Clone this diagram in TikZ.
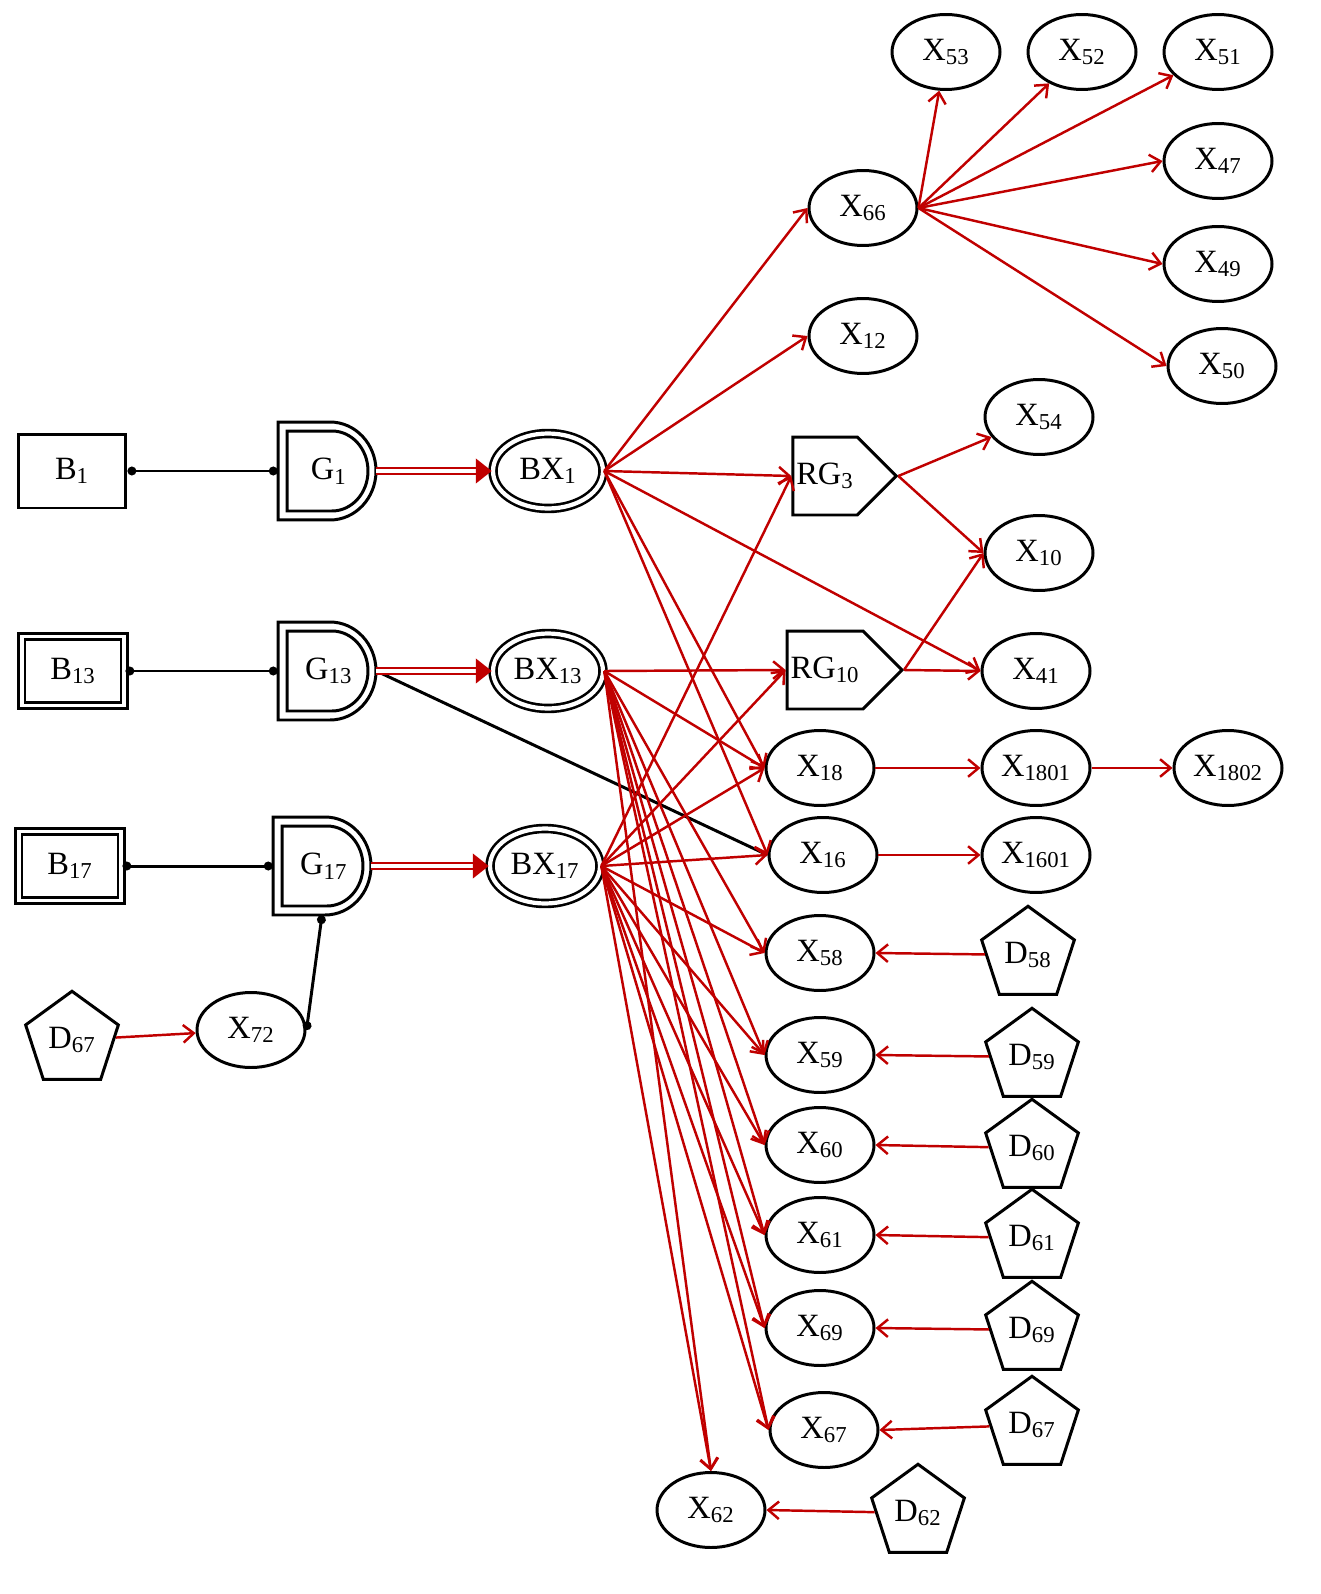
\documentclass[tikz,border=0pt]{standalone}
\usepackage{fontspec}
\setmainfont{Liberation Serif}
\usetikzlibrary{shapes.geometric,shapes.symbols,arrows.meta}
\definecolor{dred}{RGB}{192,0,0}
\newcommand\lb[2]{#1\textsubscript{#2}}
\newcommand\gatebox[4]{%
 \node[minimum width=1.96cm,minimum height=1.96cm,inner sep=0] (#1) at (#2,#3) {\hspace*{2pt}#4};%
 \draw[blk] ([shift={(-0.98cm,0.98cm)}]#1.center) -- ++(1.04cm,0) arc[start angle=90,end angle=-90,x radius=0.92cm,y radius=0.98cm] -- ++(-1.04cm,0) -- cycle;%
 \draw[blk] ([shift={(-0.8cm,0.8cm)}]#1.center) -- ++(0.9cm,0) arc[start angle=90,end angle=-90,x radius=0.72cm,y radius=0.8cm] -- ++(-0.9cm,0) -- cycle;}
\begin{document}
\begin{tikzpicture}[x=0.02cm,y=-0.02cm,
 every node/.style={font=\fontsize{18.5}{20}\selectfont},
 blk/.style={line width=1.7pt,black},
 ell/.style={ellipse,draw,blk,minimum width=2.16cm,minimum height=1.5cm,inner sep=0},
 bx/.style={ellipse,draw,line width=1.5pt,double,double distance=2.4pt,minimum width=2.2cm,minimum height=1.5cm,inner sep=0},
 box/.style={rectangle,draw,blk,minimum width=2.16cm,minimum height=1.48cm},
 dbox/.style={rectangle,draw,line width=1.4pt,double,double distance=2.2pt,minimum width=2.05cm,minimum height=1.38cm},
 pent/.style={regular polygon,regular polygon sides=5,draw,blk,minimum size=1.95cm,inner sep=0},
 rg/.style={signal,signal to=east,signal pointer angle=90,draw,blk,minimum width=2.0cm,minimum height=1.56cm,inner sep=2pt},
 ra/.style={dred,line width=1.4pt,-{Straight Barb[length=6pt,width=10pt]}},
 dl/.style={blk,{Circle[length=5pt]}-{Circle[length=5pt]}},
 da/.style={dred,line width=1.1pt,double=white,double distance=2.2pt,-{Triangle[length=9pt,width=14pt]}}]
\useasboundingbox (0,0) rectangle (1320,1594);
% left column
\node[box] (B1) at (72,471) {\lb{B}{1}};
\node[dbox] (B13) at (73,671) {\lb{B}{13}};
\node[dbox] (B17) at (70,866) {\lb{B}{17}};
\node[pent] (D67a) at (72,1040) {\lb{D}{67}};
\node[ell] (X72) at (251,1030) {\lb{X}{72}};
\gatebox{G1}{327}{471}{\lb{G}{1}}
\gatebox{G13}{327}{671}{\lb{G}{13}}
\gatebox{G17}{322}{866}{\lb{G}{17}}
\node[bx] (BX1) at (548,471) {\lb{BX}{1}};
\node[bx] (BX13) at (548,671) {\lb{BX}{13}};
\node[bx] (BX17) at (545,866) {\lb{BX}{17}};
% right part
\node[ell] (X66) at (863,208) {\lb{X}{66}};
\node[ell] (X12) at (863,336) {\lb{X}{12}};
\node[ell] (X53) at (946,52) {\lb{X}{53}};
\node[ell] (X52) at (1082,52) {\lb{X}{52}};
\node[ell] (X51) at (1218,52) {\lb{X}{51}};
\node[ell] (X47) at (1218,161) {\lb{X}{47}};
\node[ell] (X49) at (1218,264) {\lb{X}{49}};
\node[ell] (X50) at (1222,366) {\lb{X}{50}};
\node[rg] (RG3) at (825,476) {\lb{RG}{3}\hspace{14pt}};
\node[rg] (RG10) at (825,670) {\lb{RG}{10}\hspace{14pt}};
\node[ell] (X54) at (1039,417) {\lb{X}{54}};
\node[ell] (X10) at (1039,553) {\lb{X}{10}};
\node[ell] (X41) at (1036,671) {\lb{X}{41}};
\node[ell] (X18) at (820,768) {\lb{X}{18}};
\node[ell] (X1801) at (1036,768) {\lb{X}{1801}};
\node[ell] (X1802) at (1228,768) {\lb{X}{1802}};
\node[ell] (X16) at (823,855) {\lb{X}{16}};
\node[ell] (X1601) at (1036,855) {\lb{X}{1601}};
\node[ell] (X58) at (820,953) {\lb{X}{58}};
\node[ell] (X59) at (820,1055) {\lb{X}{59}};
\node[ell] (X60) at (820,1145) {\lb{X}{60}};
\node[ell] (X61) at (820,1235) {\lb{X}{61}};
\node[ell] (X69) at (820,1328) {\lb{X}{69}};
\node[ell] (X67) at (824,1430) {\lb{X}{67}};
\node[ell] (X62) at (711,1510) {\lb{X}{62}};
\node[pent] (D58) at (1028,955) {\lb{D}{58}};
\node[pent] (D59) at (1032,1057) {\lb{D}{59}};
\node[pent] (D60) at (1032,1148) {\lb{D}{60}};
\node[pent] (D61) at (1032,1238) {\lb{D}{61}};
\node[pent] (D69) at (1032,1330) {\lb{D}{69}};
\node[pent] (D67b) at (1032,1425) {\lb{D}{67}};
\node[pent] (D62) at (918,1513) {\lb{D}{62}};
% black links
\draw[dl] (B1.east) -- (G1.west);
\draw[dl] (B13.east) -- (G13.west);
\draw[dl] (B17.east) -- (G17.west);
\draw[dl] (G17.south) -- (X72.east);
\draw[blk] (G13.east) -- (X16.west);
% double arrows
\draw[da] (G1.east) -- (BX1.west);
\draw[da] (G13.east) -- (BX13.west);
\draw[da] (G17.east) -- (BX17.west);
\draw[ra] (D67a) -- (X72);
% BX1
\foreach \t in {X66,X12,RG3,X41,X18,X16} \draw[ra] (BX1.east) -- (\t.west);
% BX13
\foreach \t in {RG10,X18,X58,X59,X60,X61,X69,X67} \draw[ra] (BX13.east) -- (\t.west);
\draw[ra] (BX13.east) -- (X62.north);
% BX17
\foreach \t in {RG3,RG10,X18,X16,X58,X59,X60,X61,X69,X67} \draw[ra] (BX17.east) -- (\t.west);
\draw[ra] (BX17.east) -- (X62.north);
% X66 fan
\foreach \t in {X53,X52,X51} \draw[ra] (X66.east) -- (\t);
\foreach \t in {X47,X49,X50} \draw[ra] (X66.east) -- (\t.west);
\draw[ra] (RG3.east) -- (X54);
\draw[ra] (RG3.east) -- (X10.west);
\draw[ra] (RG10.east) -- (X10.west);
\draw[ra] (RG10.east) -- (X41.west);
\draw[ra] (X18) -- (X1801);
\draw[ra] (X1801) -- (X1802);
\draw[ra] (X16) -- (X1601);
\draw[ra] (D58) -- (X58.east);
\draw[ra] (D59) -- (X59.east);
\draw[ra] (D60) -- (X60.east);
\draw[ra] (D61) -- (X61.east);
\draw[ra] (D69) -- (X69.east);
\draw[ra] (D67b) -- (X67.east);
\draw[ra] (D62) -- (X62.east);
\end{tikzpicture}
\end{document}
